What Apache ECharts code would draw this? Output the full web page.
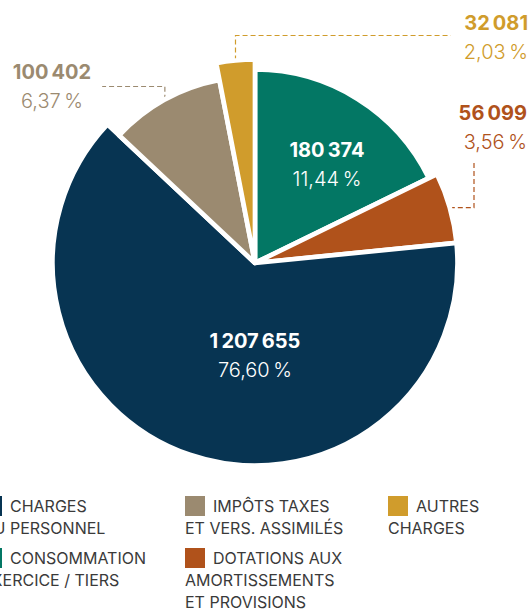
<!DOCTYPE html>
<html>
<head>
<meta charset="utf-8">
<script src="https://cdn.jsdelivr.net/npm/echarts@6/dist/echarts.min.js"></script>
<style>
  html, body { margin: 0; padding: 0; background: #fff; }
  #chart { width: 532px; height: 609px; }
</style>
</head>
<body>
<div id="chart"></div>
<script>
// slices, clockwise from 12 o'clock
var categories = [
  'Consommation exercice / tiers',
  'Dotations aux amortissements et provisions',
  'Charges du personnel',
  'Impôts taxes et vers. assimilés',
  'Autres charges'
];
var values = [180374, 56099, 1207655, 100402, 32081];
// angle of each slice as drawn in the picture (degrees) - the drawing is not to scale
var sliceAngles = [64, 20.3, 228.9, 35.8, 11];
var legendLines = [
  ['CONSOMMATION', 'EXERCICE / TIERS'],
  ['DOTATIONS AUX', 'AMORTISSEMENTS', 'ET PROVISIONS'],
  ['CHARGES', 'DU PERSONNEL'],
  ['IMPÔTS TAXES', 'ET VERS. ASSIMILÉS'],
  ['AUTRES', 'CHARGES']
];
var legendCols = [[2, 0], [3, 1], [4]];

var colors = ['#037764', '#b0521b', '#073452', '#9b8a70', '#d09c2c'];
var radii = [193.5, 202.5, 202.5, 186.5, 203.5];
var center = [255, 263];
var FONT = 'Inter, "Noto Sans", sans-serif';

// label placement (layout only)
var labelPos = [
  { x: 327, y: 164, align: 'center', inside: true },
  { x: 527, y: 127, align: 'right', leader: 'up' },
  { x: 255, y: 355, align: 'center', inside: true },
  { x: 52, y: 86, align: 'center', leader: 'left' },
  { x: 528, y: 37, align: 'right', leader: 'right' }
];

var total = values.reduce(function (a, b) { return a + b; }, 0);
function fmtNum(v) {
  return String(v).replace(/\B(?=(\d{3})+(?!\d))/g, '\u2009');
}
function fmtPct(v) {
  return (v / total * 100).toFixed(2).replace('.', ',') + '\u2009%';
}

var chart = echarts.init(document.getElementById('chart'), null, { renderer: 'svg' });

var start = 90;
var series = values.map(function (v, i) {
  var pos = labelPos[i];
  var txtColor = pos.inside ? '#ffffff' : colors[i];
  var midAngle = (start - sliceAngles[i] / 2) * Math.PI / 180;
  var anchor = [center[0] + radii[i] * Math.cos(midAngle), center[1] - radii[i] * Math.sin(midAngle)];
  var s = {
    type: 'pie',
    center: center,
    radius: [0, radii[i]],
    startAngle: start,
    clockwise: true,
    silent: true,
    animation: false,
    avoidLabelOverlap: false,
    data: [
      {
        name: categories[i],
        value: sliceAngles[i],
        itemStyle: { color: colors[i], borderColor: '#ffffff', borderWidth: 4.7 }
      },
      {
        name: '',
        value: 360 - sliceAngles[i],
        itemStyle: { color: 'rgba(0,0,0,0)', borderWidth: 0 },
        label: { show: false },
        labelLine: { show: false }
      }
    ],
    label: {
      show: true,
      position: pos.inside ? 'inside' : 'outside',
      formatter: '{v|' + fmtNum(v) + '}\n{p|' + fmtPct(v) + '}',
      align: pos.align,
      rich: {
        v: { fontFamily: FONT, fontSize: 20, fontWeight: 700, lineHeight: 29, color: txtColor, align: pos.align },
        p: { fontFamily: FONT, fontSize: 20, fontWeight: 300, lineHeight: 29, color: txtColor, align: pos.align }
      }
    },
    labelLine: {
      show: !pos.inside,
      lineStyle: { color: colors[i], width: 1.2, type: [5, 3] }
    },
    labelLayout: function (p) {
      if (p.dataIndex !== 0) return {};
      var out = { x: pos.x, y: pos.y, align: pos.align, verticalAlign: 'middle' };
      if (pos.leader) {
        var w = p.labelRect.width, h = p.labelRect.height;
        var a = anchor;
        if (pos.leader === 'right') {
          out.labelLinePoints = [a, [a[0], pos.y - 1.5], [pos.x - w - 13, pos.y - 1.5]];
        } else if (pos.leader === 'left') {
          out.labelLinePoints = [a, [a[0], pos.y + 0.5], [pos.x + w / 2 + 11, pos.y + 0.5]];
        } else {
          out.labelLinePoints = [a, [pos.x - 53, a[1]], [pos.x - 53, pos.y + h / 2 + 9]];
        }
      }
      return out;
    }
  };
  start -= sliceAngles[i];
  return s;
});

var legendLeft = [-18, 185, 388];
var rich = { g: { width: 8 }, t: { fontFamily: FONT, fontSize: 16, lineHeight: 22, color: '#3a3a3a' } };
colors.forEach(function (c, i) {
  rich['s' + i] = { width: 20, height: 20, backgroundColor: c };
});

var option = {
  backgroundColor: '#ffffff',
  legend: legendCols.map(function (col, c) {
    return {
      orient: 'vertical',
      left: legendLeft[c] - 5,
      top: 495,
      width: 200,
      height: 160,
      padding: 0,
      icon: 'none',
      itemWidth: 0,
      itemHeight: 20,
      itemGap: 8,
      selectedMode: false,
      data: col.map(function (i) { return categories[i]; }),
      formatter: function (name) {
        var i = categories.indexOf(name);
        var lines = legendLines[i];
        var txt = '{s' + i + '|}{g|}{t|' + lines[0] + '}';
        for (var k = 1; k < lines.length; k++) txt += '\n{t|' + lines[k] + '}';
        return txt;
      },
      textStyle: { fontFamily: FONT, fontSize: 16, lineHeight: 22, color: '#3a3a3a', rich: rich }
    };
  }),
  series: series
};

chart.setOption(option);
</script>
</body>
</html>
